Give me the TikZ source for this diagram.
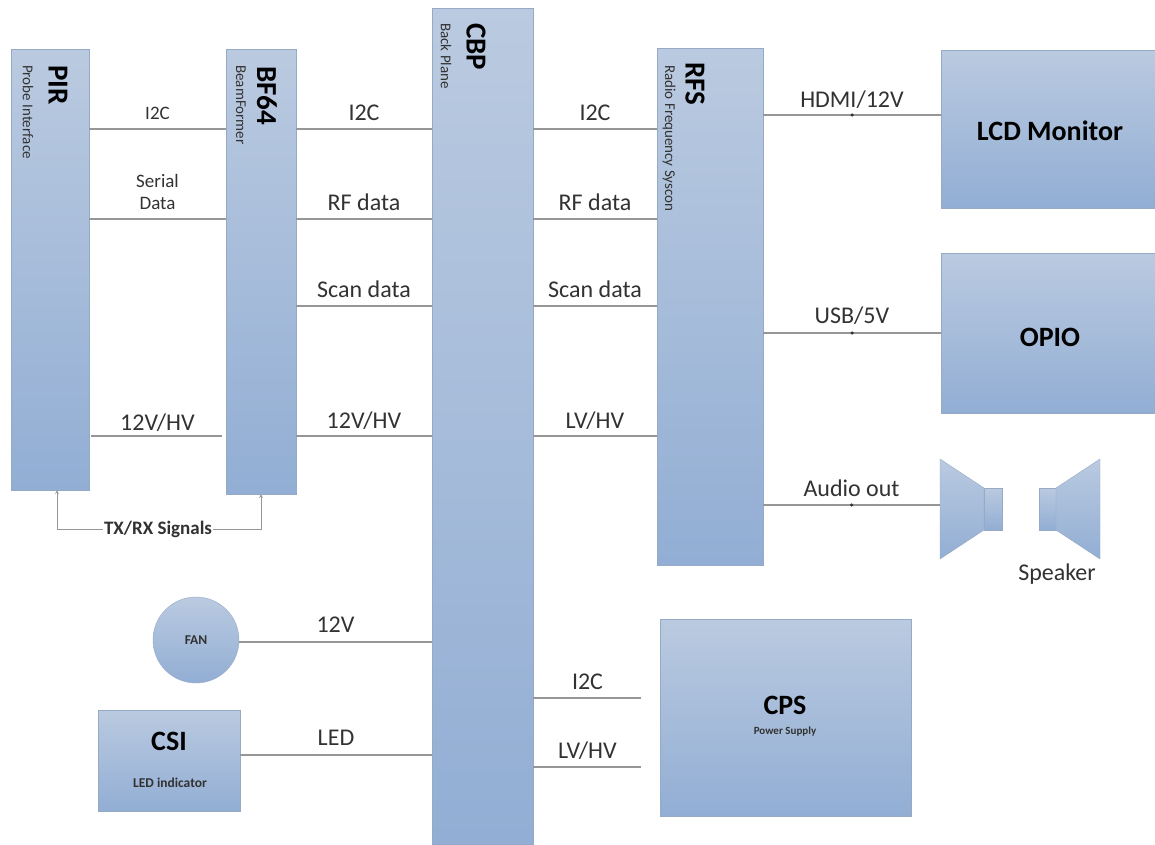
\documentclass[tikz,border=0pt]{standalone}
\usepackage{fontspec}
\setmainfont{Carlito}
\definecolor{boxtop}{RGB}{186,202,224}
\definecolor{boxbottom}{RGB}{146,174,212}
\definecolor{boxedge}{RGB}{150,170,198}
\definecolor{wiregray}{RGB}{150,150,150}
\definecolor{inkgray}{RGB}{50,50,50}
\tikzset{
    block/.style={draw=boxedge, top color=boxtop, bottom color=boxbottom, inner sep=0pt, outer sep=0pt},
    wire/.style={draw=wiregray, line width=1.1pt},
    sig/.style={text=inkgray, font=\fontsize{24}{28}\selectfont, inner sep=2pt},
    sigsmall/.style={text=inkgray, font=\fontsize{19}{22}\selectfont, inner sep=2pt, align=center},
    title/.style={text=black, font=\bfseries\fontsize{29}{32}\selectfont, inner sep=0pt},
    titlebig/.style={text=black, font=\bfseries\fontsize{28}{32}\selectfont, inner sep=0pt},
    subtitle/.style={text=inkgray, font=\bfseries\fontsize{13.5}{16}\selectfont, inner sep=0pt},
    sidetext/.style={text=inkgray, font=\fontsize{15}{17}\selectfont, inner sep=0pt, rotate=-90, anchor=west},
    dot/.style={circle, fill=black!80, inner sep=0pt, minimum size=3.5pt}
}
\begin{document}
\begin{tikzpicture}[x=1pt,y=-1pt,>=stealth]
    \useasboundingbox (0,0) rectangle (1155,844);

    % Tall boards
    \node[block, minimum width=78pt, minimum height=441pt] (pir) at (50,269.5) {};
    \node[block, minimum width=70pt, minimum height=445pt] (bf) at (261,271.5) {};
    \node[block, minimum width=101pt, minimum height=836pt] (cbp) at (482.5,426) {};
    \node[block, minimum width=106pt, minimum height=517pt] (rfs) at (710,306.5) {};

    % Titles on the boards
    \node[title, rotate=-90, anchor=west] (pirname) at (58,65) {PIR};
    \node[sidetext] (pirsub) at (28,65) {Probe Interface};
    \node[title, rotate=-90, anchor=west] (bfname) at (267,66) {BF64};
    \node[sidetext] (bfsub) at (241,65) {BeamFormer};
    \node[title, rotate=-90, anchor=west] (cbpname) at (476,23) {CBP};
    \node[sidetext] (cbpsub) at (446,23) {Back Plane};
    \node[title, rotate=-90, anchor=west] (rfsname) at (695,62) {RFS};
    \node[sidetext] (rfssub) at (669,65) {Radio Frequency Syscon};

    % Right side blocks
    \node[block, minimum width=214pt, minimum height=158pt] (lcd) at (1048,129) {};
    \node[titlebig] (lcdname) at (1050,131) {LCD Monitor};
    \node[block, minimum width=214pt, minimum height=160pt] (opio) at (1048,333) {};
    \node[titlebig] (opioname) at (1050,337) {OPIO};
    \node[block, minimum width=251pt, minimum height=197pt] (cps) at (785.5,717.5) {};
    \node[titlebig] (cpsname) at (785,705) {CPS};
    \node[subtitle, font=\bfseries\fontsize{11}{13}\selectfont] (cpssub) at (785,731) {Power Supply};

    % Lower left blocks
    \node[block, circle, minimum size=86pt] (fan) at (196,640) {};
    \node[subtitle] (fanname) at (196,640) {FAN};
    \node[block, minimum width=142pt, minimum height=101pt] (csi) at (169,760.5) {};
    \node[titlebig] (csiname) at (169,741) {CSI};
    \node[subtitle] (csisub) at (170,783) {LED indicator};

    % Speaker
    \shade[top color=boxtop, bottom color=boxbottom, draw=boxedge] (940,459) -- (984,488) -- (984,530) -- (940,559) -- cycle;
    \node[block, minimum width=18pt, minimum height=42pt] (spkleft) at (993,509) {};
    \node[block, minimum width=17pt, minimum height=42pt] (spkright) at (1047.5,509) {};
    \shade[top color=boxtop, bottom color=boxbottom, draw=boxedge] (1100,459) -- (1056,488) -- (1056,530) -- (1100,559) -- cycle;
    \coordinate (spkin) at (940,505);
    \node[sig] (spkname) at (1057,574) {Speaker};

    % PIR to BF64
    \foreach \y/\label in {129/I2C, 219/{Serial\\Data}}
        \draw[wire] (pir.east |- 0,\y) -- node[sigsmall, above=7pt] {\label} (bf.west |- 0,\y);
    \draw[wire, shorten <=2pt, shorten >=4pt] (pir.east |- 0,436) -- node[sig, above=2pt] {12V/HV} (bf.west |- 0,436);

    % BF64 to CBP
    \foreach \y/\label in {129/I2C, 219/RF data, 306/Scan data}
        \draw[wire] (bf.east |- 0,\y) -- node[sig, above=6pt] {\label} (cbp.west |- 0,\y);
    \draw[wire] (bf.east |- 0,436) -- node[sig, above=4pt] {12V/HV} (cbp.west |- 0,436);

    % CBP to RFS
    \foreach \y/\label in {129/I2C, 219/RF data, 306/Scan data}
        \draw[wire] (cbp.east |- 0,\y) -- node[sig, above=6pt] {\label} (rfs.west |- 0,\y);
    \draw[wire] (cbp.east |- 0,436) -- node[sig, above=4pt] {LV/HV} (rfs.west |- 0,436);

    % RFS outputs
    \draw[wire] (rfs.east |- 0,115) -- node[dot] (hdmidot) {} node[sig, above=4pt] {HDMI/12V} (lcd.west |- 0,115);
    \draw[wire] (rfs.east |- 0,333) -- node[dot] (usbdot) {} node[sig, above=6pt] {USB/5V} (opio.west |- 0,333);
    \draw[wire] (rfs.east |- 0,505) -- node[dot] (audiodot) {} node[sig, above=6pt] {Audio out} (spkin);

    % CBP to the lower blocks
    \draw[wire] (fan.east |- 0,642) -- node[sig, above=7pt] {12V} (cbp.west |- 0,642);
    \draw[wire] (csi.east |- 0,755) -- node[sig, above=7pt] {LED} (cbp.west |- 0,755);
    \draw[wire, shorten >=19pt] (cbp.east |- 0,698) -- node[sig, above=6pt, xshift=-9pt] {I2C} (cps.west |- 0,698);
    \draw[wire, shorten >=19pt] (cbp.east |- 0,767) -- node[sig, above=5pt, xshift=-9pt] {LV/HV} (cps.west |- 0,767);

    % TX/RX loop
    \node[text=inkgray, font=\bfseries\fontsize{19}{21}\selectfont, inner sep=1pt] (txrx) at (158,529) {TX/RX Signals};
    \draw[wire, line width=0.8pt, ->] (txrx.west) -| ([xshift=7pt]pir.south);
    \draw[wire, line width=0.8pt, ->] (txrx.east) -| (bf.south);
\end{tikzpicture}
\end{document}
